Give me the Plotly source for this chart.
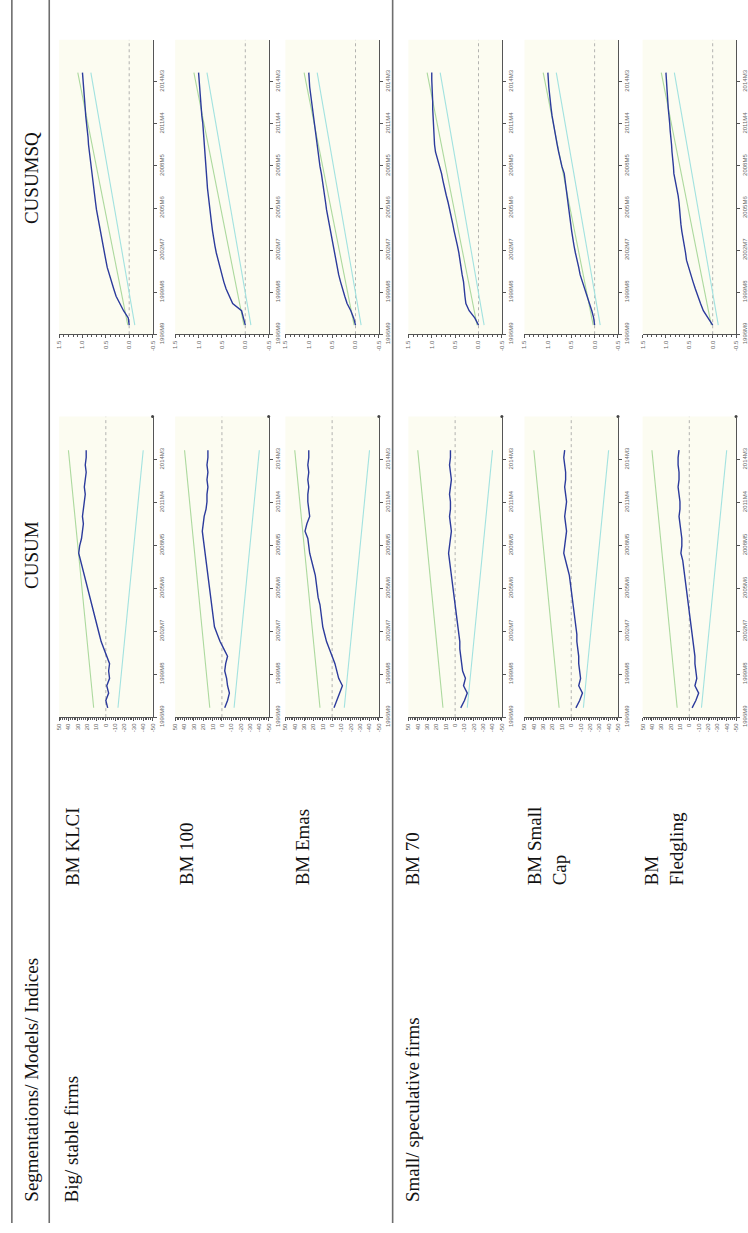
import plotly.graph_objects as go

W, H = 748, 1233

# ---------------- data ----------------
time_tick_labels = ["1996M9", "1999M8", "2002M7", "2005M6", "2008M5", "2011M4", "2014M3"]
time_tick_pos = [1996.667, 1999.583, 2002.5, 2005.417, 2008.333, 2011.25, 2014.167]
time_range = [1996.667, 2017.083]

t = [1997.3, 1997.8, 1998.3, 1998.8, 1999.3, 1999.8, 2000.3, 2000.8, 2001.3, 2001.8,
     2002.3, 2002.8, 2003.3, 2003.8, 2004.3, 2004.8, 2005.3, 2005.8, 2006.3, 2006.8,
     2007.3, 2007.8, 2008.3, 2008.8, 2009.3, 2009.8, 2010.3, 2010.8, 2011.3, 2011.8,
     2012.3, 2012.8, 2013.3, 2013.8, 2014.3, 2014.8]

indices = ["BM KLCI", "BM 100", "BM Emas", "BM 70", "BM Small<br>Cap", "BM<br>Fledgling"]

cusum_klci = [-2, 0, -3, -1, -4, -3, -4, -1, 2, 5, 7, 9, 11, 13, 15, 17, 19, 21, 23, 25,
              27, 29, 28, 26, 25, 24, 25, 24, 23, 22, 23, 22, 21, 22, 21, 21]
cusum_bm100 = [-3, -6, -8, -6, -5, -3, -4, -6, -2, 2, 5, 8, 9, 10, 11, 12, 13, 14, 15, 16,
               17, 18, 19, 20, 21, 20, 19, 17, 16, 16, 15, 16, 15, 16, 15, 15]
cusum_emas = [-2, -5, -8, -11, -7, -5, -3, 0, 3, 6, 8, 10, 11, 12, 13, 15, 16, 17, 18, 20,
              22, 24, 25, 26, 29, 27, 24, 25, 26, 26, 25, 26, 25, 26, 25, 25]
cusum_bm70 = [-6, -10, -13, -9, -11, -8, -7, -6, -5, -5, -4, -3, -2, -1, 0, 1, 2, 3, 4, 5,
              6, 7, 6, 5, 4, 5, 6, 5, 5, 6, 5, 4, 5, 6, 5, 5]
cusum_small = [-5, -9, -12, -8, -10, -9, -8, -8, -7, -6, -6, -5, -4, -3, -2, -1, 0, 1, 2, 4,
               6, 8, 7, 6, 5, 6, 7, 6, 5, 6, 7, 6, 6, 7, 8, 7]
cusum_fledg = [-3, -7, -10, -6, -8, -7, -6, -6, -5, -4, -3, -2, -1, 0, 1, 2, 3, 4, 5, 6,
               7, 9, 8, 8, 9, 10, 11, 10, 10, 11, 12, 11, 11, 12, 12, 11]

cusumsq_klci = [0.0, 0.02, 0.12, 0.20, 0.28, 0.33, 0.38, 0.42, 0.47, 0.50, 0.53, 0.56, 0.59, 0.62,
                0.65, 0.67, 0.70, 0.72, 0.74, 0.76, 0.77, 0.79, 0.81, 0.83, 0.85, 0.87, 0.88, 0.90,
                0.91, 0.93, 0.94, 0.95, 0.97, 0.98, 0.99, 1.0]
cusumsq_bm100 = [0.0, 0.04, 0.08, 0.27, 0.34, 0.41, 0.46, 0.50, 0.55, 0.59, 0.62, 0.65, 0.68, 0.70,
                 0.72, 0.74, 0.76, 0.78, 0.79, 0.81, 0.82, 0.83, 0.84, 0.85, 0.87, 0.88, 0.89, 0.90,
                 0.91, 0.93, 0.94, 0.95, 0.97, 0.98, 0.99, 1.0]
cusumsq_emas = [0.0, 0.04, 0.10, 0.18, 0.23, 0.28, 0.32, 0.36, 0.39, 0.42, 0.45, 0.48, 0.51, 0.54,
                0.57, 0.59, 0.62, 0.64, 0.66, 0.69, 0.71, 0.73, 0.76, 0.78, 0.80, 0.83, 0.85, 0.87,
                0.89, 0.91, 0.93, 0.95, 0.97, 0.98, 0.99, 1.0]
cusumsq_bm70 = [0.0, 0.08, 0.20, 0.27, 0.29, 0.30, 0.32, 0.35, 0.37, 0.40, 0.42, 0.45, 0.49, 0.52,
                0.55, 0.58, 0.61, 0.65, 0.69, 0.73, 0.76, 0.79, 0.83, 0.88, 0.92, 0.94, 0.95, 0.96,
                0.97, 0.97, 0.98, 0.98, 0.99, 0.99, 1.0, 1.0]
cusumsq_small = [0.0, 0.02, 0.06, 0.11, 0.16, 0.22, 0.27, 0.31, 0.34, 0.38, 0.41, 0.44, 0.47, 0.49,
                 0.51, 0.53, 0.55, 0.57, 0.58, 0.60, 0.62, 0.65, 0.70, 0.74, 0.77, 0.80, 0.83, 0.86,
                 0.88, 0.91, 0.93, 0.95, 0.97, 0.98, 0.99, 1.0]
cusumsq_fledg = [0.0, 0.10, 0.20, 0.26, 0.32, 0.37, 0.42, 0.47, 0.52, 0.56, 0.58, 0.61, 0.63, 0.66,
                 0.68, 0.69, 0.70, 0.72, 0.74, 0.77, 0.80, 0.83, 0.84, 0.86, 0.87, 0.88, 0.90, 0.91,
                 0.92, 0.94, 0.95, 0.96, 0.97, 0.98, 0.99, 1.0]

cusum_series = [cusum_klci, cusum_bm100, cusum_emas, cusum_bm70, cusum_small, cusum_fledg]
cusumsq_series = [cusumsq_klci, cusumsq_bm100, cusumsq_emas, cusumsq_bm70, cusumsq_small, cusumsq_fledg]

# 5% significance bounds (start, end values)
cusum_upper = [13, 40]
cusum_lower = [-13, -40]
cusumsq_upper = [0.03, 1.1]
cusumsq_lower = [-0.12, 0.82]

cusum_ticks = [50, 40, 30, 20, 10, 0, -10, -20, -30, -40, -50]
cusumsq_ticks = [1.5, 1.0, 0.5, 0.0, -0.5]

# ---------------- layout geometry (pixels) ----------------
row_x = [(57, 152), (175, 270), (287, 382), (412, 507), (530, 625), (650, 745)]
cusum_y = (420, 723)     # top, bottom
cusumsq_y = (40, 337)

BLUE = "#2c3b9c"
GREEN = "#acd99e"
CYAN = "#a2e2e0"
AXIS = "#555555"
TICKF = dict(family="Liberation Sans, Arial", size=6, color="#666666")
SERIF = "Liberation Serif, Times New Roman, serif"

fig = go.Figure()
layout = {}


def px(xp):
    return xp / W


def py(yp):
    return 1 - yp / H


n = 0
for r in range(6):
    x0, x1 = row_x[r]
    for kind in ("cusum", "cusumsq"):
        n += 1
        xa = "x" if n == 1 else f"x{n}"
        ya = "y" if n == 1 else f"y{n}"
        if kind == "cusum":
            ytop, ybot = cusum_y
            vals = cusum_series[r]
            up, lo = cusum_upper, cusum_lower
            ticks = cusum_ticks
            vrange = [50, -50]
            ticktext = [str(v) for v in ticks]
            minor = 2
        else:
            ytop, ybot = cusumsq_y
            vals = cusumsq_series[r]
            up, lo = cusumsq_upper, cusumsq_lower
            ticks = cusumsq_ticks
            vrange = [1.5, -0.5]
            ticktext = [f"{v:.1f}" for v in ticks]
            minor = 0.1
        fig.add_trace(go.Scatter(x=[0, 0], y=[time_range[0], time_range[1]], mode="lines",
                                 line=dict(color="#a0a0a0", width=0.8, dash="dot"),
                                 xaxis=xa, yaxis=ya, showlegend=False, hoverinfo="skip"))
        fig.add_trace(go.Scatter(x=up, y=[t[0], t[-1]], mode="lines",
                                 line=dict(color=GREEN, width=1.1),
                                 xaxis=xa, yaxis=ya, showlegend=False))
        fig.add_trace(go.Scatter(x=lo, y=[t[0], t[-1]], mode="lines",
                                 line=dict(color=CYAN, width=1.1),
                                 xaxis=xa, yaxis=ya, showlegend=False))
        fig.add_trace(go.Scatter(x=vals, y=t, mode="lines",
                                 line=dict(color=BLUE, width=1.4),
                                 xaxis=xa, yaxis=ya, showlegend=False))
        if kind == "cusum":
            fig.add_trace(go.Scatter(x=[vrange[1]], y=[time_range[1]], mode="markers",
                                     marker=dict(color="#444444", size=3), cliponaxis=False,
                                     xaxis=xa, yaxis=ya, showlegend=False))
        xkey = "xaxis" if n == 1 else f"xaxis{n}"
        ykey = "yaxis" if n == 1 else f"yaxis{n}"
        layout[xkey] = dict(domain=[px(x0), px(x1)], anchor=ya, range=vrange,
                            tickmode="array", tickvals=ticks, ticktext=ticktext, tickangle=-90,
                            tickfont=TICKF, showline=True, linecolor=AXIS, linewidth=1,
                            ticks="outside", ticklen=3, tickcolor=AXIS, showgrid=False,
                            minor=dict(dtick=minor, ticks="outside", ticklen=1.5, tickcolor=AXIS),
                            zeroline=False, fixedrange=True)
        layout[ykey] = dict(domain=[py(ybot), py(ytop)], anchor=xa, side="right",
                            range=time_range, tickmode="array", tickvals=time_tick_pos,
                            ticktext=time_tick_labels, tickangle=-90, tickfont=TICKF,
                            showline=True, linecolor=AXIS, linewidth=1, ticks="outside",
                            ticklen=3, tickcolor=AXIS, showgrid=False, zeroline=False,
                            fixedrange=True)

shapes = []
for xl in (9, 47, 396):
    shapes.append(dict(type="line", xref="paper", yref="paper", x0=px(xl), x1=px(xl),
                       y0=0, y1=1, line=dict(color="#6e6e6e", width=1.6)))
for r in range(6):
    x0, x1 = row_x[r]
    for (ytop, ybot) in (cusum_y, cusumsq_y):
        shapes.append(dict(type="rect", xref="paper", yref="paper", x0=px(x0), x1=px(x1),
                           y0=py(ybot), y1=py(ytop), fillcolor="#fcfcf1", line=dict(width=0),
                           layer="below"))

annotations = []


def rot_text(text, x, y, anchor="bottom", size=19):
    annotations.append(dict(text=text, x=px(x), y=py(y), xref="paper", yref="paper",
                            showarrow=False, textangle=-90, xanchor="center", yanchor=anchor,
                            align="left", font=dict(family=SERIF, size=size, color="#111111")))


rot_text("Segmentations/ Models/ Indices", 29, 1214)
rot_text("CUSUM", 29, 560, anchor="middle")
rot_text("CUSUMSQ", 29, 180, anchor="middle")
rot_text("Big/ stable firms", 70, 1214)
rot_text("Small/ speculative firms", 416, 1214)
label_x = [70, 186, 304, 416, 553, 672]
for lx, name in zip(label_x, indices):
    rot_text(name, lx, 895)

layout.update(dict(width=W, height=H, margin=dict(l=0, r=0, t=0, b=0),
                   paper_bgcolor="white", plot_bgcolor="rgba(0,0,0,0)",
                   shapes=shapes, annotations=annotations, showlegend=False))
fig.update_layout(**layout)
fig.write_html("out.html")
